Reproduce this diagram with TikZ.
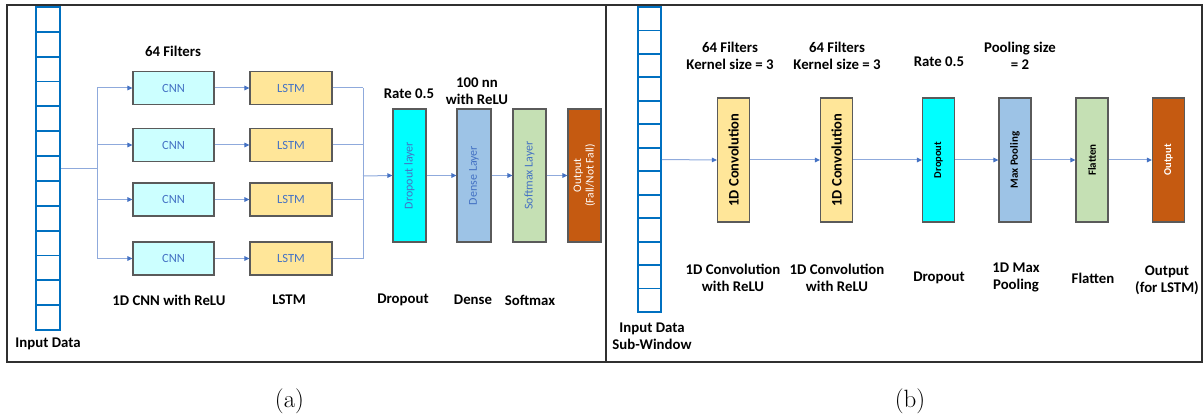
\documentclass[tikz,border=0pt]{standalone}
\usepackage{fontspec}
\newfontfamily\cb{Carlito}
\usetikzlibrary{arrows.meta}
\definecolor{inblue}{HTML}{0070C0}
\definecolor{lnblue}{HTML}{8FAADC}
\definecolor{tipblue}{HTML}{4472C4}
\definecolor{txblue}{HTML}{4472C4}
\definecolor{boxgray}{HTML}{5A5A5A}
\definecolor{cnnfill}{HTML}{CCFFFF}
\definecolor{lstmfill}{HTML}{FFE699}
\definecolor{cyanfill}{HTML}{00FFFF}
\definecolor{densefill}{HTML}{9DC3E6}
\definecolor{softfill}{HTML}{C5E0B4}
\definecolor{outfill}{HTML}{C55A11}
\definecolor{framec}{HTML}{303030}
\begin{document}
\begin{tikzpicture}[x=1pt,y=-1pt,
  lbl/.style={font=\cb\bfseries\fontsize{14.8}{17}\selectfont, align=center, inner sep=0pt},
  blk/.style={draw=boxgray, line width=1.1pt, inner sep=0pt},
  smallbox/.style={blk, minimum width=81pt, minimum height=33pt,
     font=\cb\fontsize{12.5}{14}\selectfont, text=txblue},
  tallA/.style={blk, minimum width=33pt, minimum height=133pt},
  tallB/.style={blk, minimum width=32pt, minimum height=124pt},
  conn/.style={draw=lnblue, line width=1pt},
  arr/.style={conn, -{Triangle[length=5pt,width=4.5pt,fill=tipblue,color=tipblue]}},
  cell/.style={draw=inblue, line width=1.8pt, inner sep=0pt},
  captxt/.style={font=\fontsize{25}{28}\selectfont, inner sep=0pt}
]
\useasboundingbox (0,0) rectangle (1203,417);
% frames
\draw[framec, line width=1.6pt] (7,5) rectangle (606,362);
\draw[framec, line width=1.6pt] (606,5) rectangle (1202,362);

% ---------------- Panel (a) ----------------
\node[cell, minimum width=24pt, minimum height=323pt] (inA) at (48,168.5) {};
\foreach \i in {1,...,12} {
  \draw[inblue, line width=1.8pt] (36,{7+\i*323/13}) -- (60,{7+\i*323/13});
}
\node[lbl] (inAlbl) at (48,344) {Input Data};

\foreach \r/\y in {1/88,2/145,3/199.5,4/258.5} {
  \node[smallbox, fill=cnnfill] (cnn\r) at (173.5,\y) {CNN};
  \node[smallbox, fill=lstmfill, minimum width=82pt] (lstm\r) at (291,\y) {LSTM};
}
\coordinate (split) at (97,168.5);
\coordinate (join) at (363,176);
\draw[conn] (inA.east) -- (split);
\draw[conn] (split |- cnn1.west) -- (split |- cnn4.west);
\foreach \r in {1,...,4} {
  \draw[arr] (split |- cnn\r.west) -- (cnn\r.west);
  \draw[arr] (cnn\r.east) -- (lstm\r.west);
  \draw[conn] (lstm\r.east) -- (join |- lstm\r.east);
}
\draw[conn] (join |- lstm1.east) -- (join |- lstm4.east);

\node[tallA, fill=cyanfill,
  label={[rotate=90, font=\cb\fontsize{12}{13}\selectfont, text=txblue]center:Dropout layer}] (dropA) at (409.5,175.5) {};
\node[tallA, fill=densefill, minimum width=34pt,
  label={[rotate=90, font=\cb\fontsize{12}{13}\selectfont, text=txblue]center:Dense Layer}] (dense) at (474,175.5) {};
\node[tallA, fill=softfill,
  label={[rotate=90, font=\cb\fontsize{12}{13}\selectfont, text=txblue]center:Softmax Layer}] (soft) at (529.5,175.5) {};
\node[tallA, fill=outfill,
  label={[rotate=90, font=\cb\fontsize{11.5}{12.5}\selectfont, text=white, align=center]center:Output\\(Fall/Not Fall)}] (outA) at (584.5,175.5) {};

\draw[arr] (join) -- (dropA.west);
\draw[arr] (dropA.east) -- (dense.west);
\draw[arr] (dense.east) -- (soft.west);
\draw[arr] (soft.east) -- (outA.west);

\node[lbl] (t64) at (173,51) {64 Filters};
\node[lbl] (tcnn) at (169,300) {1D CNN with ReLU};
\node[lbl] (tlstm) at (289,300) {LSTM};
\node[lbl] (trate) at (409,94) {Rate 0.5};
\node[lbl] (t100) at (477,91.5) {100 nn\\with ReLU};
\node[lbl] (tdrop) at (403,300) {Dropout};
\node[lbl] (tdense) at (473,300) {Dense};
\node[lbl] (tsoft) at (530,300) {Softmax};

% ---------------- Panel (b) ----------------
\node[cell, minimum width=23pt, minimum height=305pt] (inB) at (649.5,159.5) {};
\foreach \i in {1,...,12} {
  \draw[inblue, line width=1.8pt] (638,{7+\i*305/13}) -- (661,{7+\i*305/13});
}
\node[lbl] (inBlbl) at (652,336.5) {Input Data\\Sub-Window};

\node[tallB, fill=lstmfill,
  label={[rotate=90, font=\cb\bfseries\fontsize{14.5}{16}\selectfont]center:1D Convolution}] (conv1) at (733.5,160) {};
\node[tallB, fill=lstmfill,
  label={[rotate=90, font=\cb\bfseries\fontsize{14.5}{16}\selectfont]center:1D Convolution}] (conv2) at (836.5,160) {};
\node[tallB, fill=cyanfill,
  label={[rotate=90, font=\cb\bfseries\fontsize{10.5}{12}\selectfont]center:Dropout}] (dropB) at (938.5,160) {};
\node[tallB, fill=densefill,
  label={[rotate=90, font=\cb\bfseries\fontsize{11}{12}\selectfont]center:Max Pooling}] (pool) at (1015,160) {};
\node[tallB, fill=softfill,
  label={[rotate=90, font=\cb\bfseries\fontsize{11}{12}\selectfont]center:Flatten}] (flat) at (1092,160) {};
\node[tallB, fill=outfill,
  label={[rotate=90, font=\cb\bfseries\fontsize{10.5}{12}\selectfont, text=white]center:Output}] (outB) at (1168.5,160) {};

\draw[arr] (inB.east) -- (conv1.west);
\draw[arr] (conv1.east) -- (conv2.west);
\draw[arr] (conv2.east) -- (dropB.west);
\draw[arr] (dropB.east) -- (pool.west);
\draw[arr] (pool.east) -- (flat.west);
\draw[arr] (flat.east) -- (outB.west);

\node[lbl] (k1) at (730,55.5) {64 Filters\\Kernel size = 3};
\node[lbl] (k2) at (837,55.5) {64 Filters\\Kernel size = 3};
\node[lbl] (rB) at (939,62) {Rate 0.5};
\node[lbl] (ps) at (1020,55.5) {Pooling size\\= 2};
\node[lbl] (c1) at (733,277.5) {1D Convolution\\with ReLU};
\node[lbl] (c2) at (837,277.5) {1D Convolution\\with ReLU};
\node[lbl] (dB) at (939,278) {Dropout};
\node[lbl] (mp) at (1016,277.5) {1D Max\\Pooling};
\node[lbl] (fl) at (1093,278) {Flatten};
\node[lbl] (oB) at (1167,280.5) {Output\\(for LSTM)};

% captions
\node[captxt] (capa) at (289.5,401) {(a)};
\node[captxt] (capb) at (910,401) {(b)};
\end{tikzpicture}
\end{document}
